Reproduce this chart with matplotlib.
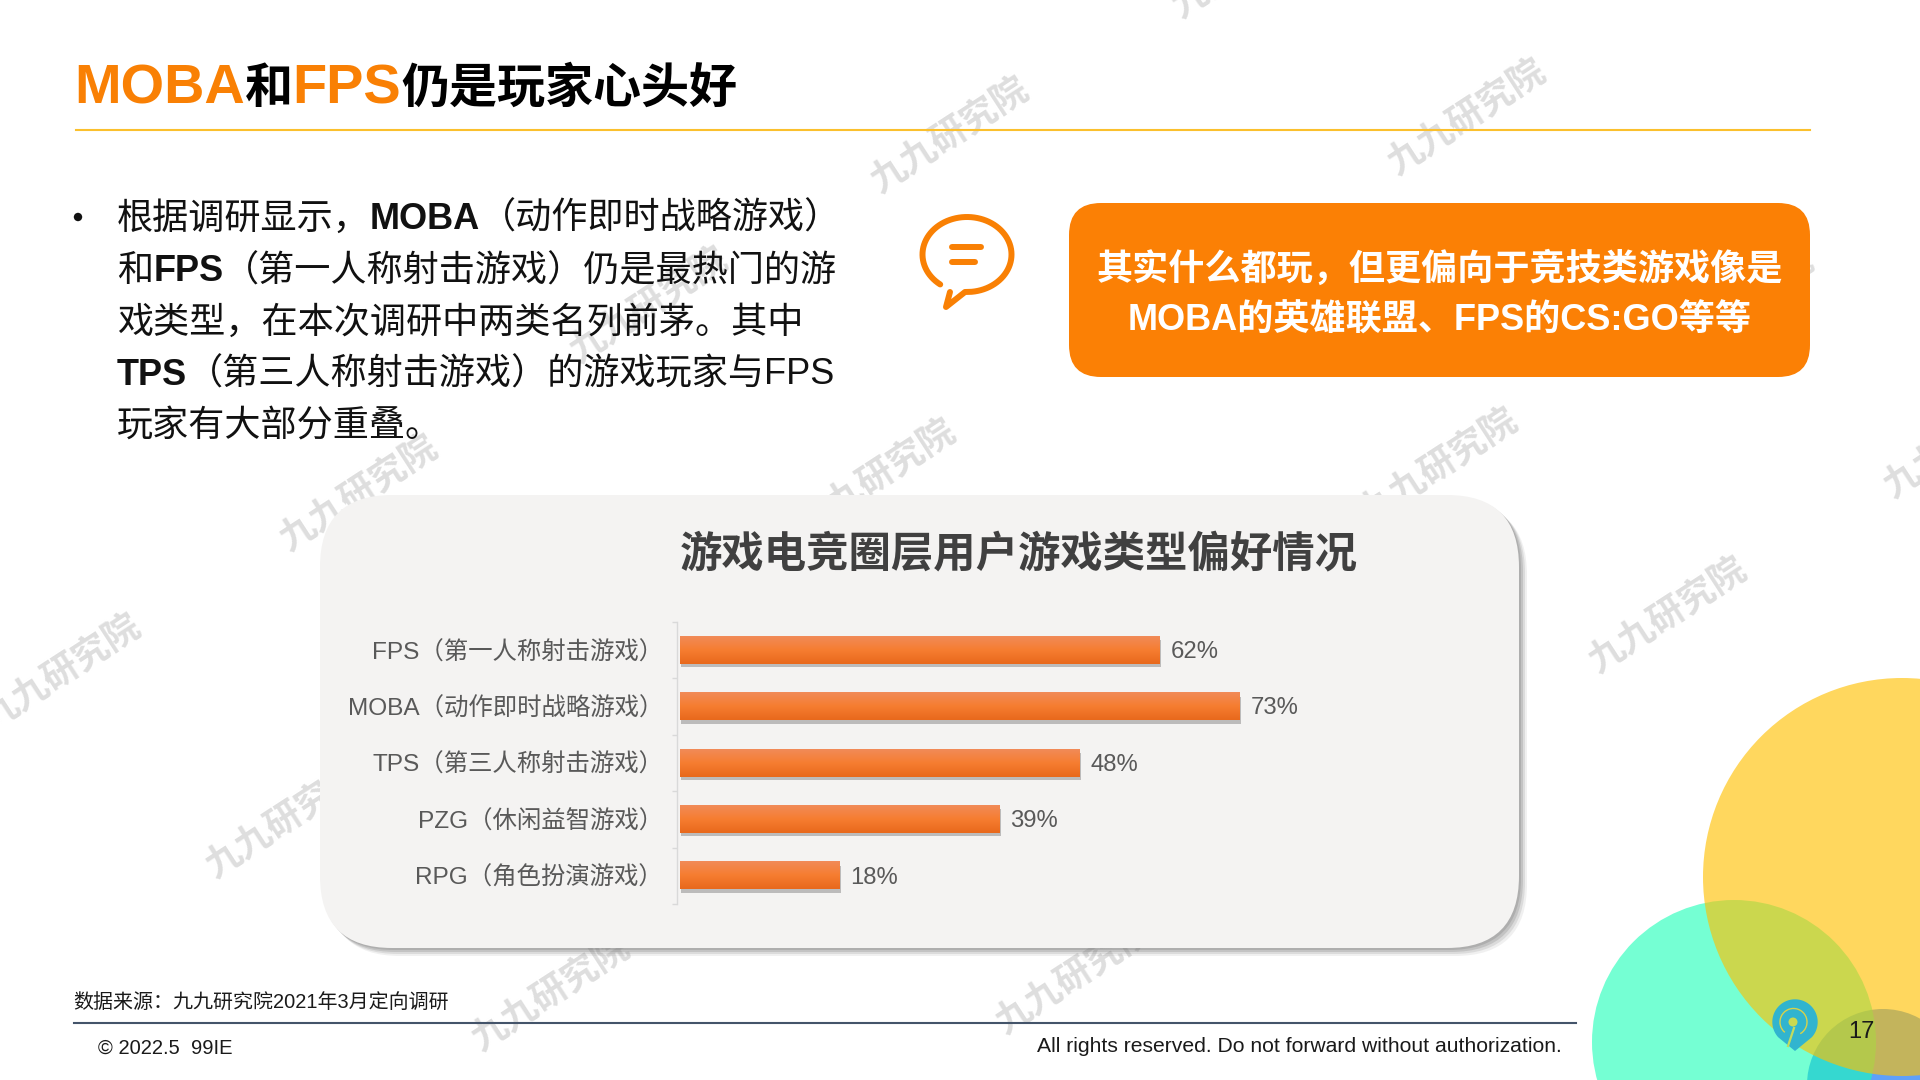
import numpy as np
import matplotlib
matplotlib.use("Agg")
import matplotlib.pyplot as plt
from matplotlib.patches import FancyBboxPatch, Circle, PathPatch, Arc
from matplotlib.path import Path
import matplotlib.patheffects as pe

FONT = ['Liberation Sans', 'Noto Sans CJK SC', 'DejaVu Sans']
plt.rcParams['font.family'] = FONT

# ---- data ----
categories = ["FPS（第一人称射击游戏）", "MOBA（动作即时战略游戏）", "TPS（第三人称射击游戏）",
              "PZG（休闲益智游戏）", "RPG（角色扮演游戏）"]
# drawn bar lengths (they do not follow the printed labels)
bar_lengths = [60, 70, 50, 40, 20]
printed_percent = [62, 73, 48, 39, 18]
chart_title = "游戏电竞圈层用户游戏类型偏好情况"
watermark_text = "九九研究院"

fig = plt.figure(figsize=(19.2, 10.8), dpi=100, facecolor='white')
bg = fig.add_axes([0, 0, 1, 1], zorder=0)
bg.set_xlim(0, 1920)
bg.set_ylim(1080, 0)
bg.axis('off')

# decorative circles
bg.add_patch(Circle((1883, 1085), 76, fc=(95/255, 160/255, 249/255), ec='none', zorder=1))
bg.add_patch(Circle((1734, 1042), 142, fc=(25/255, 1, 182/255), alpha=0.6, ec='none', zorder=2))
bg.add_patch(Circle((1902, 877), 199, fc='#FFC000', alpha=0.63, ec='none', zorder=3))

# watermarks
wm_pos = [(950, 136), (1467, 118), (359, 494), (877, 478), (1439, 467), (62, 673), (1668, 616),
          (285, 821), (551, 994), (1075, 977), (649, 306), (1251, -39), (1963, 441), (1735, 307)]
for (x, y) in wm_pos:
    bg.text(x, y, watermark_text, rotation=33, rotation_mode='anchor', ha='center', va='center',
            fontsize=26, fontweight='bold', color='#DEDEDE', zorder=4)

renderer = fig.canvas.get_renderer()


def runs(x, y, parts, default_size, color='black', z=10):
    for p in parts:
        txt = p[0]
        w = p[1] if len(p) > 1 else 'normal'
        c = p[2] if len(p) > 2 and p[2] else color
        s = p[3] if len(p) > 3 else default_size
        t = bg.text(x, y, txt, fontsize=s, fontweight=w, color=c, va='baseline', ha='left', zorder=z)
        x = t.get_window_extent(renderer).x1 + 0.0
    return x


# title
ORANGE = '#F98004'
runs(74, 103, [("MOBA", 'bold', ORANGE, 40.2), ("和", 'bold', 'black', 34.6),
               ("FPS", 'bold', ORANGE, 40.2), ("仍是玩家心头好", 'bold', 'black', 34.6)], 34.6)
bg.plot([76, 1810], [130, 130], color='#FBC02D', lw=1.5, zorder=5)

# body text
TXT = '#111111'
bg.add_patch(Circle((78, 217), 4.2, fc=TXT, ec='none', zorder=10))
body = [
    [("根据调研显示，",), ("MOBA", 'bold'), ("（动作即时战略游戏）",)],
    [("和",), ("FPS", 'bold'), ("（第一人称射击游戏）仍是最热门的游",)],
    [("戏类型，在本次调研中两类名列前茅。其中",)],
    [("TPS", 'bold'), ("（第三人称射击游戏）的游戏玩家与FPS",)],
    [("玩家有大部分重叠。",)],
]
for i, line in enumerate(body):
    runs(117, 229 + 52 * i, line, 26, color=TXT)

# speech bubble
theta = np.radians(np.linspace(-84, 233, 80))
cx, cy, rx, ry = 967, 254.5, 44.5, 37.5
ex = cx + rx * np.cos(theta)
ey = cy - ry * np.sin(theta)
bx = [950, 946, 965] + list(ex)
by = [292, 307, 292] + list(ey)
bg.plot(bx, by, color=ORANGE, lw=4.3, solid_capstyle='round', solid_joinstyle='round', zorder=6)
bg.plot([952, 981], [247, 247], color=ORANGE, lw=4.3, solid_capstyle='round', zorder=6)
bg.plot([952, 975], [262, 262], color=ORANGE, lw=4.3, solid_capstyle='round', zorder=6)

# orange box
bg.add_patch(FancyBboxPatch((1069, 203), 741, 174, boxstyle="round,pad=0,rounding_size=32",
                            fc='#FB8005', ec='none', zorder=6))
bg.text(1440, 270, "其实什么都玩，但更偏向于竞技类游戏像是", ha='center', va='center',
        fontsize=26, fontweight='bold', color='white', zorder=7)
bg.text(1440, 321, "MOBA的英雄联盟、FPS的CS:GO等等", ha='center', va='center',
        fontsize=26, fontweight='bold', color='white', zorder=7)

# panel with soft shadow
for off, a in [(8, 0.10), (6, 0.16), (4, 0.22), (2, 0.25)]:
    bg.add_patch(FancyBboxPatch((320 + off, 495 + off), 1199, 453, boxstyle="round,pad=0,rounding_size=72",
                                fc='#707070', ec='none', alpha=a, zorder=6))
bg.add_patch(FancyBboxPatch((320, 495), 1199, 453, boxstyle="round,pad=0,rounding_size=72",
                            fc='#F4F3F2', ec='none', zorder=7))
bg.text(1019, 555, chart_title, ha='center', va='center', fontsize=30.5, fontweight='bold',
        color='#404040', zorder=8)

# bar chart
W, H = 1920.0, 1080.0
ax_l, ax_r, ax_t, ax_b = 680, 1480, 622, 904
ax = fig.add_axes([ax_l / W, 1 - ax_b / H, (ax_r - ax_l) / W, (ax_b - ax_t) / H], zorder=2)
ax.patch.set_alpha(0)
y = np.arange(len(categories))
bars = ax.barh(y, bar_lengths, height=0.48, color='#F57B2E', zorder=3,
               path_effects=[pe.SimplePatchShadow(offset=(1, -2.5), shadow_rgbFace='#555555', alpha=0.35),
                             pe.Normal()])
top = np.array([0.945, 0.545, 0.345])
mid = np.array([0.965, 0.490, 0.190])
bot = np.array([0.910, 0.410, 0.110])
tt = np.linspace(0, 1, 64)[:, None]
grad = np.where(tt < 0.5, top + (mid - top) * tt * 2, mid + (bot - mid) * (tt - 0.5) * 2)[:, None, :]
for r in bars:
    ax.imshow(grad, extent=(r.get_x(), r.get_x() + r.get_width(), r.get_y() + r.get_height(), r.get_y()),
              aspect='auto', zorder=4, interpolation='bilinear')
ax.set_xlim(0, 100)
ax.set_ylim(len(categories) - 0.5, -0.5)

for v, pos, pct in zip(bar_lengths, y, printed_percent):
    ax.annotate(f"{pct}%", (v, pos), xytext=(7.5, -1.3), textcoords='offset points', va='center', ha='left',
                fontsize=17.2, color='#595959', zorder=5)

for s in ['top', 'right', 'bottom']:
    ax.spines[s].set_visible(False)
ax.spines['left'].set_position(('outward', 2.2))
ax.spines['left'].set_color('#D9D9D9')
ax.spines['left'].set_linewidth(1)
ax.xaxis.set_visible(False)
ax.set_yticks(y)
ax.set_yticklabels(categories, fontsize=17.6, color='#595959')
ax.tick_params(axis='y', which='major', length=0, pad=10)
ax.set_yticks(np.arange(len(categories) + 1) - 0.5, minor=True)
ax.tick_params(axis='y', which='minor', length=3.5, width=1, color='#D9D9D9')

# footer
bg.text(73, 1002, "数据来源：九九研究院2021年3月定向调研", fontsize=14.4, color='#1a1a1a', va='center', ha='left', zorder=8)
bg.plot([74, 1576], [1023, 1023], color='#44546A', lw=1.5, zorder=8)
bg.text(98, 1048, "© 2022.5  99IE", fontsize=14.5, color='#1a1a1a', va='center', ha='left', zorder=8)
bg.text(1562, 1046, "All rights reserved. Do not forward without authorization.", fontsize=15.25,
        color='#1a1a1a', va='center', ha='right', zorder=8)
bg.text(1861, 1032, "17", fontsize=17, color='#1a1a1a', va='center', ha='center', zorder=8)

# logo
lx, ly, lr = 1795, 1022, 22.7
a = np.radians(np.linspace(-42, 222, 60))
px = lx + lr * np.cos(a)
py = ly - lr * np.sin(a)
verts = list(zip(px, py)) + [(lx, 1051), (px[0], py[0])]
codes = [Path.MOVETO] + [Path.LINETO] * (len(verts) - 2) + [Path.CLOSEPOLY]
bg.add_patch(PathPatch(Path(verts, codes), fc='#31B4CF', ec='none', zorder=9))
bg.add_patch(Arc((lx - 1.5, ly), 27, 27, angle=0, theta1=-230, theta2=60, ec='#D7D24A', lw=1, zorder=10))
bg.plot([1794, 1788], [1028, 1046], color='#C0DC60', lw=1.6, zorder=10)
bg.add_patch(Circle((lx - 2, ly), 4.5, fc='#CBD94F', ec='none', zorder=10))

fig.savefig("out.png", dpi=100, facecolor='white')
